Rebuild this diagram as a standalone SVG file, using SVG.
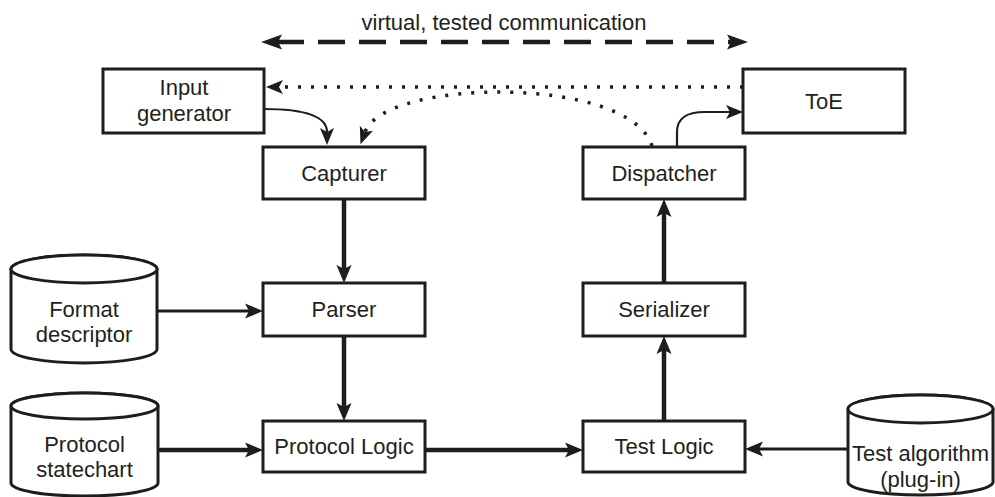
<svg xmlns="http://www.w3.org/2000/svg" width="995" height="497" viewBox="0 0 995 497">
<style>
  .box { fill: #ffffff; stroke: #1e1c1d; stroke-width: 3; }
  .cyl { fill: #ffffff; stroke: #1e1c1d; stroke-width: 3; }
  .lbl { font-family: "Liberation Sans", Arial, sans-serif; font-size: 22px; fill: #231f20; text-anchor: middle; }
  .ln { fill: none; stroke: #1e1c1d; }
  .thin { stroke-width: 2.2; }
  .mid { stroke-width: 3; }
  .thick { stroke-width: 4.5; }
  .dot { stroke-width: 3.5; stroke-dasharray: 3 10; }
  .dash { stroke-width: 4.5; stroke-dasharray: 27 14; }
</style>
<defs>
  <marker id="ah" viewBox="-6 -10 22 20" markerWidth="22" markerHeight="20" refX="0" refY="0" orient="auto" markerUnits="userSpaceOnUse">
    <path d="M14,0 L-4,-7.5 L0,0 L-4,7.5 Z" fill="#1e1c1d"/>
  </marker>
  <marker id="ahs" viewBox="-6 -10 22 20" markerWidth="22" markerHeight="20" refX="0" refY="0" orient="auto" markerUnits="userSpaceOnUse">
    <path d="M13,0 L-4,-7 L0,0 L-4,7 Z" fill="#1e1c1d"/>
  </marker>
  <marker id="big" viewBox="-8 -10 28 20" markerWidth="28" markerHeight="20" refX="0" refY="0" orient="auto-start-reverse" markerUnits="userSpaceOnUse">
    <path d="M16,0 L-5,-7.5 L-1,0 L-5,7.5 Z" fill="#1e1c1d"/>
  </marker>
</defs>

<g id="title">
  <text class="lbl" x="504" y="30">virtual, tested communication</text>
</g>

<g id="connectors">
  <!-- virtual tested communication -->
  <path class="ln dash" d="M277,42 L732,42" marker-start="url(#big)" marker-end="url(#big)"/>
  <!-- dotted ToE -> Input generator -->
  <path class="ln dot" d="M743,87 L279,87" marker-end="url(#ahs)"/>
  <!-- dotted Dispatcher -> Capturer -->
  <path class="ln dot" d="M652,146 C630,75 385,78 365,132" marker-end="url(#ahs)"/>
  <!-- Input generator -> Capturer -->
  <path class="ln thin" d="M264,109 C305,109 327,116 327,132" marker-end="url(#ahs)"/>
  <!-- Dispatcher -> ToE -->
  <path class="ln thin" d="M677,147 L677,132 C677,118 686,112 705,112 L730,112" marker-end="url(#ahs)"/>
  <!-- Capturer -> Parser -->
  <path class="ln thick" d="M344,199 L344,269" marker-end="url(#ah)"/>
  <!-- Parser -> Protocol Logic -->
  <path class="ln thick" d="M344,336 L344,407" marker-end="url(#ah)"/>
  <!-- Format descriptor -> Parser -->
  <path class="ln mid" d="M157,311 L249,311" marker-end="url(#ah)"/>
  <!-- Protocol statechart -> Protocol Logic -->
  <path class="ln thick" d="M158,450 L249,450" marker-end="url(#ah)"/>
  <!-- Protocol Logic -> Test Logic -->
  <path class="ln thick" d="M425,450 L569,450" marker-end="url(#ah)"/>
  <!-- Test algorithm -> Test Logic -->
  <path class="ln mid" d="M848,449 L759,449" marker-end="url(#ah)"/>
  <!-- Test Logic -> Serializer -->
  <path class="ln thick" d="M664,421 L664,350" marker-end="url(#ah)"/>
  <!-- Serializer -> Dispatcher -->
  <path class="ln thick" d="M664,283 L664,213" marker-end="url(#ah)"/>
</g>

<g id="input-generator">
  <rect class="box" x="103" y="69" width="161" height="64"/>
  <text class="lbl" x="184" y="95">Input</text>
  <text class="lbl" x="184" y="121">generator</text>
</g>

<g id="toe">
  <rect class="box" x="743" y="69" width="162" height="64"/>
  <text class="lbl" x="824" y="109">ToE</text>
</g>

<g id="capturer">
  <rect class="box" x="263" y="147" width="162" height="52"/>
  <text class="lbl" x="344" y="181">Capturer</text>
</g>

<g id="dispatcher">
  <rect class="box" x="583" y="147" width="162" height="52"/>
  <text class="lbl" x="664" y="181">Dispatcher</text>
</g>

<g id="parser">
  <rect class="box" x="263" y="283" width="162" height="53"/>
  <text class="lbl" x="344" y="317">Parser</text>
</g>

<g id="serializer">
  <rect class="box" x="583" y="283" width="162" height="53"/>
  <text class="lbl" x="664" y="317">Serializer</text>
</g>

<g id="protocol-logic">
  <rect class="box" x="263" y="421" width="162" height="51"/>
  <text class="lbl" x="344" y="454">Protocol Logic</text>
</g>

<g id="test-logic">
  <rect class="box" x="583" y="421" width="162" height="51"/>
  <text class="lbl" x="664" y="454">Test Logic</text>
</g>

<g id="format-descriptor">
  <path class="cyl" d="M11,269 L11,349 A73,14 0 0 0 157,349 L157,269 A73,14 0 0 0 11,269 Z"/>
  <ellipse class="cyl" cx="84" cy="269" rx="73" ry="14"/>
  <text class="lbl" x="84" y="317">Format</text>
  <text class="lbl" x="84" y="342">descriptor</text>
</g>

<g id="protocol-statechart">
  <path class="cyl" d="M11,406 L11,483 A73.5,13 0 0 0 158,483 L158,406 A73.5,13 0 0 0 11,406 Z"/>
  <ellipse class="cyl" cx="84.5" cy="406" rx="73.5" ry="13"/>
  <text class="lbl" x="84.5" y="452">Protocol</text>
  <text class="lbl" x="84.5" y="477">statechart</text>
</g>

<g id="test-algorithm">
  <path class="cyl" d="M848,409 L848,482 A72.5,13 0 0 0 993,482 L993,409 A72.5,14 0 0 0 848,409 Z"/>
  <ellipse class="cyl" cx="920.5" cy="409" rx="72.5" ry="14"/>
  <text class="lbl" x="920.5" y="461">Test algorithm</text>
  <text class="lbl" x="920.5" y="487">(plug-in)</text>
</g>
</svg>
